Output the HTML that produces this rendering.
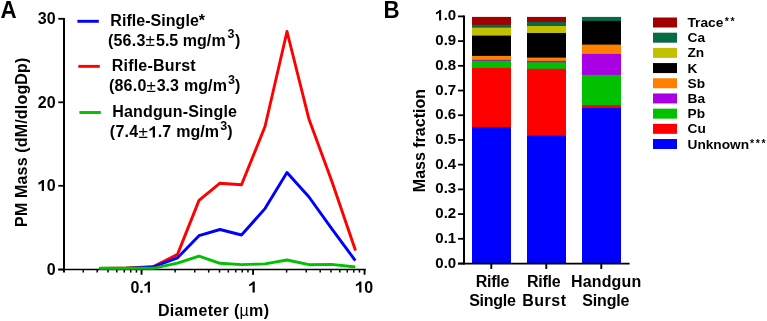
<!DOCTYPE html>
<html><head><meta charset="utf-8"><style>
html,body{margin:0;padding:0;background:#fff;}
svg{display:block;will-change:transform;}
text{font-family:"Liberation Sans",sans-serif;font-weight:bold;fill:#000;}
.n{font-weight:normal;}
</style></head><body><div id="w">
<svg width="767" height="321" viewBox="0 0 767 321">

<text transform="translate(0.5,18) scale(0.95,1)" font-size="23.5">A</text>
<line x1="64" y1="17.90" x2="64" y2="272.5" stroke="#000" stroke-width="2"/>
<line x1="58.3" y1="269.55" x2="365.75" y2="269.55" stroke="#000" stroke-width="1.4"/>
<line x1="58.3" y1="269.55" x2="64" y2="269.55" stroke="#000" stroke-width="1.8"/>
<text x="55.6" y="275.05" font-size="16" text-anchor="end">0</text>
<line x1="58.3" y1="185.80" x2="64" y2="185.80" stroke="#000" stroke-width="1.8"/>
<path transform="translate(37.80,191.05) scale(0.00781,-0.00781)" d="M790 0H505V1030Q350 890 80 820V1085Q230 1130 370 1240Q500 1345 545 1430H790Z"/>
<text x="46.70" y="191.05" font-size="16">0</text>
<line x1="58.3" y1="102.30" x2="64" y2="102.30" stroke="#000" stroke-width="1.8"/>
<text x="55.6" y="107.55" font-size="16" text-anchor="end">20</text>
<line x1="58.3" y1="18.80" x2="64" y2="18.80" stroke="#000" stroke-width="1.8"/>
<text x="55.6" y="23.50" font-size="16" text-anchor="end">30</text>
<line x1="83.25" y1="269.3" x2="83.25" y2="272.6" stroke="#000" stroke-width="1.5"/>
<line x1="97.18" y1="269.3" x2="97.18" y2="272.6" stroke="#000" stroke-width="1.5"/>
<line x1="107.99" y1="269.3" x2="107.99" y2="272.6" stroke="#000" stroke-width="1.5"/>
<line x1="116.81" y1="269.3" x2="116.81" y2="272.6" stroke="#000" stroke-width="1.5"/>
<line x1="124.28" y1="269.3" x2="124.28" y2="272.6" stroke="#000" stroke-width="1.5"/>
<line x1="130.74" y1="269.3" x2="130.74" y2="272.6" stroke="#000" stroke-width="1.5"/>
<line x1="136.45" y1="269.3" x2="136.45" y2="272.6" stroke="#000" stroke-width="1.5"/>
<line x1="141.55" y1="269.3" x2="141.55" y2="274.7" stroke="#000" stroke-width="1.9"/>
<line x1="175.11" y1="269.3" x2="175.11" y2="272.6" stroke="#000" stroke-width="1.5"/>
<line x1="194.75" y1="269.3" x2="194.75" y2="272.6" stroke="#000" stroke-width="1.5"/>
<line x1="208.68" y1="269.3" x2="208.68" y2="272.6" stroke="#000" stroke-width="1.5"/>
<line x1="219.49" y1="269.3" x2="219.49" y2="272.6" stroke="#000" stroke-width="1.5"/>
<line x1="228.31" y1="269.3" x2="228.31" y2="272.6" stroke="#000" stroke-width="1.5"/>
<line x1="235.78" y1="269.3" x2="235.78" y2="272.6" stroke="#000" stroke-width="1.5"/>
<line x1="242.24" y1="269.3" x2="242.24" y2="272.6" stroke="#000" stroke-width="1.5"/>
<line x1="247.95" y1="269.3" x2="247.95" y2="272.6" stroke="#000" stroke-width="1.5"/>
<line x1="253.05" y1="269.3" x2="253.05" y2="274.7" stroke="#000" stroke-width="1.9"/>
<line x1="286.61" y1="269.3" x2="286.61" y2="272.6" stroke="#000" stroke-width="1.5"/>
<line x1="306.25" y1="269.3" x2="306.25" y2="272.6" stroke="#000" stroke-width="1.5"/>
<line x1="320.18" y1="269.3" x2="320.18" y2="272.6" stroke="#000" stroke-width="1.5"/>
<line x1="330.99" y1="269.3" x2="330.99" y2="272.6" stroke="#000" stroke-width="1.5"/>
<line x1="339.81" y1="269.3" x2="339.81" y2="272.6" stroke="#000" stroke-width="1.5"/>
<line x1="347.28" y1="269.3" x2="347.28" y2="272.6" stroke="#000" stroke-width="1.5"/>
<line x1="353.74" y1="269.3" x2="353.74" y2="272.6" stroke="#000" stroke-width="1.5"/>
<line x1="359.45" y1="269.3" x2="359.45" y2="272.6" stroke="#000" stroke-width="1.5"/>
<line x1="364.55" y1="269.3" x2="364.55" y2="274.7" stroke="#000" stroke-width="1.9"/>
<text x="130.43" y="292.6" font-size="16">0.</text>
<path transform="translate(143.78,292.60) scale(0.00781,-0.00781)" d="M790 0H505V1030Q350 890 80 820V1085Q230 1130 370 1240Q500 1345 545 1430H790Z"/>
<path transform="translate(248.60,292.60) scale(0.00781,-0.00781)" d="M790 0H505V1030Q350 890 80 820V1085Q230 1130 370 1240Q500 1345 545 1430H790Z"/>
<path transform="translate(355.25,292.60) scale(0.00781,-0.00781)" d="M790 0H505V1030Q350 890 80 820V1085Q230 1130 370 1240Q500 1345 545 1430H790Z"/>
<text x="364.15" y="292.6" font-size="16">0</text>
<text x="157.9" y="315.6" font-size="16" textLength="111.1" lengthAdjust="spacing">Diameter (<tspan class="n">µ</tspan>m)</text>
<text transform="translate(27,142.3) rotate(-90)" font-size="16" text-anchor="middle" textLength="169.3" lengthAdjust="spacing">PM Mass (dM/dlogDp)</text>
<polyline points="99.5,268.5 126,268 153,266.8 177.5,254.4 199,200.4 220,183.2 241.5,184.8 265,126.5 287,31.5 309,119.3 332,181.7 355.5,250.5" fill="none" stroke="#ff0000" stroke-width="2.9" stroke-linejoin="round"/>
<polyline points="99.5,268.6 126,268.4 153,267.0 177.5,257.8 199,235.7 220,229.5 241.5,235 265,208.6 287,172.5 309,197 331.5,228.3 355.3,260.6" fill="none" stroke="#0000ff" stroke-width="2.9" stroke-linejoin="round"/>
<polyline points="99.5,268.3 126,268.3 153,268.3 177.5,263.2 199,256.1 220,263.3 241.5,264.6 265,263.9 287,260 309,264.7 331.5,264.4 355.3,267" fill="none" stroke="#00c000" stroke-width="2.9" stroke-linejoin="round"/>
<line x1="77.4" y1="21.3" x2="98.8" y2="21.3" stroke="#0000ff" stroke-width="2.9"/>
<line x1="78.3" y1="66.35" x2="99.8" y2="66.35" stroke="#ff0000" stroke-width="2.9"/>
<line x1="79.4" y1="112.5" x2="100.8" y2="112.5" stroke="#00c000" stroke-width="2.9"/>
<text x="110.3" y="26.2" font-size="16" textLength="94.8" lengthAdjust="spacing">Rifle-Single*</text>
<text x="111.7" y="71.4" font-size="16" textLength="84" lengthAdjust="spacing">Rifle-Burst</text>
<text x="112.3" y="117.3" font-size="16" textLength="124.6" lengthAdjust="spacing">Handgun-Single</text>
<text y="45.5" font-size="16"><tspan x="107.9" letter-spacing="0.25">(56.3</tspan><tspan x="145.4" class="n" font-size="17" dy="0.8">±</tspan><tspan x="156.0" dy="-0.8">5.5</tspan><tspan x="182.8">mg/</tspan><tspan x="211.6">m</tspan><tspan x="227.6" dy="-7.6" font-size="12.5">3</tspan><tspan x="235.0" dy="7.6">)</tspan></text>
<text y="91.1" font-size="16"><tspan x="108.9" letter-spacing="0.25">(86.0</tspan><tspan x="146.6" class="n" font-size="17" dy="0.8">±</tspan><tspan x="156.7" dy="-0.8">3.3</tspan><tspan x="184.0">mg/</tspan><tspan x="212.8">m</tspan><tspan x="228.1" dy="-7.6" font-size="12.5">3</tspan><tspan x="235.1" dy="7.6">)</tspan></text>
<text y="137.4" font-size="16"><tspan x="109.8" letter-spacing="0.25">(7.4</tspan><tspan x="138.5" class="n" font-size="17" dy="0.8">±</tspan><tspan x="157.70" dy="-0.8">.7</tspan><tspan x="176.2">mg/</tspan><tspan x="204.8">m</tspan><tspan x="220.3" dy="-7.6" font-size="12.5">3</tspan><tspan x="227.3" dy="7.6">)</tspan></text>
<path transform="translate(148.80,137.40) scale(0.00781,-0.00781)" d="M790 0H505V1030Q350 890 80 820V1085Q230 1130 370 1240Q500 1345 545 1430H790Z"/>
<text transform="translate(383.4,17.7) scale(0.95,1)" font-size="23.5">B</text>
<rect x="472" y="16.9" width="39" height="246.50" fill="#a00000"/>
<rect x="472" y="24.8" width="39" height="238.60" fill="#066a44"/>
<rect x="472" y="27.7" width="39" height="235.70" fill="#c2c000"/>
<rect x="472" y="35.6" width="39" height="227.80" fill="#000000"/>
<rect x="472" y="55.9" width="39" height="207.50" fill="#ff8000"/>
<rect x="472" y="59.8" width="39" height="203.60" fill="#aa00e4"/>
<rect x="472" y="60.7" width="39" height="202.70" fill="#00c000"/>
<rect x="472" y="67.9" width="39" height="195.50" fill="#ff0000"/>
<rect x="472" y="127" width="39" height="136.40" fill="#0000ff"/>
<rect x="527" y="16.9" width="39" height="246.50" fill="#a00000"/>
<rect x="527" y="22.1" width="39" height="241.30" fill="#066a44"/>
<rect x="527" y="26" width="39" height="237.40" fill="#c2c000"/>
<rect x="527" y="33" width="39" height="230.40" fill="#000000"/>
<rect x="527" y="57.6" width="39" height="205.80" fill="#ff8000"/>
<rect x="527" y="60.9" width="39" height="202.50" fill="#aa00e4"/>
<rect x="527" y="62.3" width="39" height="201.10" fill="#00c000"/>
<rect x="527" y="68.8" width="39" height="194.60" fill="#ff0000"/>
<rect x="527" y="135.7" width="39" height="127.70" fill="#0000ff"/>
<rect x="582" y="16.9" width="39" height="246.50" fill="#066a44"/>
<rect x="582" y="20.9" width="39" height="242.50" fill="#000000"/>
<rect x="582" y="44.6" width="39" height="218.80" fill="#ff8000"/>
<rect x="582" y="53.9" width="39" height="209.50" fill="#aa00e4"/>
<rect x="582" y="74.9" width="39" height="188.50" fill="#00c000"/>
<rect x="582" y="105.1" width="39" height="158.30" fill="#ff0000"/>
<rect x="582" y="107.9" width="39" height="155.50" fill="#0000ff"/>
<line x1="464" y1="15.499999999999998" x2="464" y2="264.5" stroke="#000" stroke-width="2"/>
<line x1="458" y1="263.6" x2="629.6" y2="263.6" stroke="#000" stroke-width="1.8"/>
<line x1="491.30" y1="263.5" x2="491.30" y2="269" stroke="#000" stroke-width="1.9"/>
<line x1="546.30" y1="263.5" x2="546.30" y2="269" stroke="#000" stroke-width="1.9"/>
<line x1="601.30" y1="263.5" x2="601.30" y2="269" stroke="#000" stroke-width="1.9"/>
<line x1="458" y1="263.50" x2="464" y2="263.50" stroke="#000" stroke-width="1.8"/>
<text x="456.2" y="267.50" font-size="15" text-anchor="end">0.0</text>
<line x1="458" y1="238.79" x2="464" y2="238.79" stroke="#000" stroke-width="1.8"/>
<text x="456.2" y="242.79" font-size="15" text-anchor="end">0.1</text>
<line x1="458" y1="214.08" x2="464" y2="214.08" stroke="#000" stroke-width="1.8"/>
<text x="456.2" y="218.08" font-size="15" text-anchor="end">0.2</text>
<line x1="458" y1="189.37" x2="464" y2="189.37" stroke="#000" stroke-width="1.8"/>
<text x="456.2" y="193.37" font-size="15" text-anchor="end">0.3</text>
<line x1="458" y1="164.66" x2="464" y2="164.66" stroke="#000" stroke-width="1.8"/>
<text x="456.2" y="168.66" font-size="15" text-anchor="end">0.4</text>
<line x1="458" y1="139.95" x2="464" y2="139.95" stroke="#000" stroke-width="1.8"/>
<text x="456.2" y="143.95" font-size="15" text-anchor="end">0.5</text>
<line x1="458" y1="115.24" x2="464" y2="115.24" stroke="#000" stroke-width="1.8"/>
<text x="456.2" y="119.24" font-size="15" text-anchor="end">0.6</text>
<line x1="458" y1="90.53" x2="464" y2="90.53" stroke="#000" stroke-width="1.8"/>
<text x="456.2" y="94.53" font-size="15" text-anchor="end">0.7</text>
<line x1="458" y1="65.82" x2="464" y2="65.82" stroke="#000" stroke-width="1.8"/>
<text x="456.2" y="69.82" font-size="15" text-anchor="end">0.8</text>
<line x1="458" y1="41.11" x2="464" y2="41.11" stroke="#000" stroke-width="1.8"/>
<text x="456.2" y="45.11" font-size="15" text-anchor="end">0.9</text>
<line x1="458" y1="16.40" x2="464" y2="16.40" stroke="#000" stroke-width="1.8"/>
<path transform="translate(435.35,20.40) scale(0.00732,-0.00732)" d="M790 0H505V1030Q350 890 80 820V1085Q230 1130 370 1240Q500 1345 545 1430H790Z"/>
<text x="443.69" y="20.40" font-size="15">.0</text>
<text transform="translate(424.8,140.6) rotate(-90)" font-size="16" text-anchor="middle">Mass fraction</text>
<text x="475.7" y="287.4" font-size="16" textLength="33.7" lengthAdjust="spacing">Rifle</text>
<text x="469.2" y="306.0" font-size="16" textLength="46.7" lengthAdjust="spacing">Single</text>
<text x="527.0" y="287.4" font-size="16" textLength="33.6" lengthAdjust="spacing">Rifle</text>
<text x="522.2" y="306.0" font-size="16" textLength="43.9" lengthAdjust="spacing">Burst</text>
<text x="571.0" y="287.4" font-size="16" textLength="70.2" lengthAdjust="spacing">Handgun</text>
<text x="582.3" y="306.0" font-size="16" textLength="47.2" lengthAdjust="spacing">Single</text>
<rect x="653" y="17.50" width="24" height="10" fill="#a00000"/>
<text x="687.5" y="27.00" font-size="13.7">Trace<tspan x="724.7" dy="-1.7" font-size="10.5" letter-spacing="1.7">**</tspan></text>
<rect x="653" y="32.69" width="24" height="10" fill="#066a44"/>
<text x="687.5" y="42.19" font-size="13.7">Ca</text>
<rect x="653" y="47.88" width="24" height="10" fill="#c2c000"/>
<text x="687.5" y="57.38" font-size="13.7">Zn</text>
<rect x="653" y="63.07" width="24" height="10" fill="#000000"/>
<text x="687.5" y="72.57" font-size="13.7">K</text>
<rect x="653" y="78.26" width="24" height="10" fill="#ff8000"/>
<text x="687.5" y="87.76" font-size="13.7">Sb</text>
<rect x="653" y="93.45" width="24" height="10" fill="#aa00e4"/>
<text x="687.5" y="102.95" font-size="13.7">Ba</text>
<rect x="653" y="108.64" width="24" height="10" fill="#00c000"/>
<text x="687.5" y="118.14" font-size="13.7">Pb</text>
<rect x="653" y="123.83" width="24" height="10" fill="#ff0000"/>
<text x="687.5" y="133.33" font-size="13.7">Cu</text>
<rect x="653" y="139.02" width="24" height="10" fill="#0000ff"/>
<text x="687.5" y="148.52" font-size="13.7">Unknown<tspan x="749.9" dy="-1.7" font-size="10.5" letter-spacing="1.7">***</tspan></text>
</svg></div></body></html>
